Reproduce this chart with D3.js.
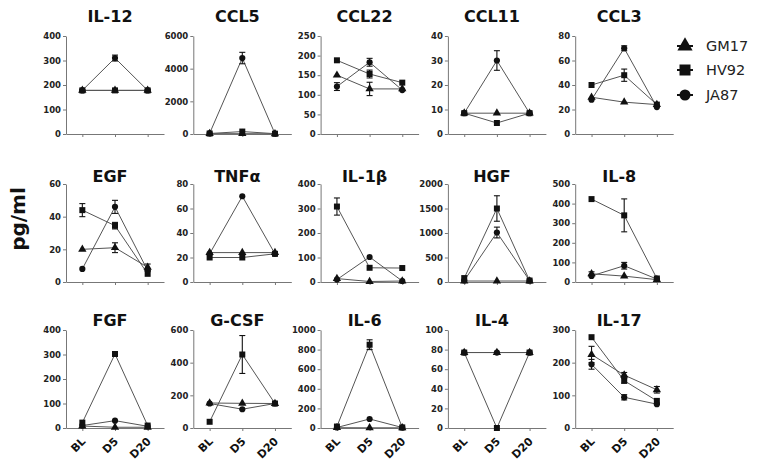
<!DOCTYPE html>
<html><head><meta charset="utf-8">
<script src="https://cdn.jsdelivr.net/npm/d3@7"></script>
<style>
html,body{margin:0;padding:0;background:#fff;}
svg{display:block;}
text{font-family:"DejaVu Sans",Verdana,sans-serif;}
</style></head>
<body>
<svg id="chart" width="760" height="471"></svg>
<script>
// ---- data ----
const categories = ["BL", "D5", "D20"];
const seriesNames = ["GM17", "HV92", "JA87"];
const panelTitles = ["IL-12","CCL5","CCL22","CCL11","CCL3","EGF","TNFα","IL-1β","HGF","IL-8","FGF","G-CSF","IL-6","IL-4","IL-17"];
const yMax  = [400, 6000, 250, 40, 80, 60, 80, 400, 2000, 500, 400, 600, 1000, 100, 300];
const yStep = [100, 2000, 50, 10, 20, 20, 20, 100, 500, 100, 100, 200, 200, 20, 100];

const gm17 = [
  [178,178,178],[20,20,10],[150,115,115],[8.5,8.5,8.5],[30,26,24],
  [20,21,9],[24,24,24],[14,2,4],[20,20,20],[42,30,12],
  [8,3,3],[153,151,150],[3,2,2],[77,77,77],[225,162,117]
];
const hv92 = [
  [178,178,178],[30,150,20],[188,153,131],[8.5,4.5,8.5],[40,48,24],
  [44,34.5,5],[20,20,23],[308,58,57],[80,1500,30],[423,340,18],
  [22,302,10],[38,450,150],[15,850,6],[77,0,77],[278,145,83]
];
const ja87 = [
  [178,310,178],[40,4650,20],[121,183,112],[8.5,30,8.5],[28,70,22],
  [8,46,7],[23,70,23],[10,102,4],[30,1010,30],[31,83,15],
  [10,30,7],[150,115,150],[5,92,5],[77,77,77],[195,94,73]
];
// symmetric error bars (SEM), 0 = none drawn
const gm17Err = [
  [4,4,4],[0,0,0],[0,17,0],[0,0,0],[0,0,0],
  [0,3,2],[0,0,0],[0,0,0],[0,0,0],[10,0,0],
  [0,0,0],[0,0,0],[0,0,0],[0,0,0],[25,8,10]
];
const hv92Err = [
  [0,0,0],[0,0,0],[0,10,0],[0,0,0],[0,5,0],
  [4,2,0],[0,0,0],[35,0,0],[0,260,0],[0,84,0],
  [0,0,0],[0,116,0],[0,50,0],[0,0,0],[0,8,0]
];
const ja87Err = [
  [0,12,0],[0,350,0],[10,10,0],[0,4,0],[0,2,0],
  [0,4,0],[0,0,0],[0,0,0],[0,110,0],[0,17,0],
  [0,0,0],[0,0,0],[0,0,0],[0,0,0],[15,8,0]
];

// ---- drawing ----
const svg = d3.select("#chart");
svg.append("rect").attr("width",760).attr("height",471).attr("fill","#fff");

const values = [gm17, hv92, ja87];
const errors = [gm17Err, hv92Err, ja87Err];
const symbolTypes = [d3.symbolTriangle, d3.symbolSquare, d3.symbolCircle];
const symbolSizes = [30, 36, 30];
const rowTop = [36, 184, 330];
const titleBase = [22, 182, 326];
const plotH = 98;

panelTitles.forEach((title, i) => {
  const row = Math.floor(i / 5), col = i % 5;
  const x0 = 82 + 127.3 * col;
  const top = rowTop[row], bottom = top + plotH;
  const xs = d3.scalePoint().domain(categories).range([x0 - 16, x0 + 82]).padding(0.5);
  const ys = d3.scaleLinear().domain([0, yMax[i]]).range([bottom, top]);
  const g = svg.append("g");

  // title
  g.append("text").attr("x", x0 + 28).attr("y", titleBase[row])
    .attr("text-anchor", "middle").attr("font-weight", "bold")
    .attr("font-size", "16px").attr("fill", "#111").text(title);

  // y axis
  const yAxis = d3.axisLeft(ys)
    .tickValues(d3.range(0, yMax[i] + yStep[i] / 2, yStep[i]))
    .tickFormat(d3.format("d"))
    .tickSize(3).tickSizeOuter(0).tickPadding(2);
  const ya = g.append("g").attr("transform", `translate(${x0 - 16},0)`).call(yAxis);
  ya.select(".domain").attr("stroke", "#777");
  ya.selectAll(".tick line").attr("stroke", "#777");
  ya.selectAll(".tick text").attr("font-size", "8.5px").attr("font-weight", "bold")
    .attr("fill", "#222").attr("font-family", "'DejaVu Sans',Verdana,sans-serif");

  // x axis
  const xAxis = d3.axisBottom(xs).tickSize(3).tickSizeOuter(0).tickFormat("");
  const xa = g.append("g").attr("transform", `translate(0,${bottom})`).call(xAxis);
  xa.select(".domain").attr("stroke", "#777");
  xa.selectAll(".tick line").attr("stroke", "#777");
  xa.selectAll(".tick text").remove();
  if (row === 2) {
    categories.forEach(c => {
      const tx = xs(c) + 4, ty = bottom + 14;
      g.append("text")
        .attr("x", tx).attr("y", ty)
        .attr("transform", `rotate(-45 ${tx} ${ty})`)
        .attr("text-anchor", "end")
        .attr("font-size", "11px").attr("font-weight", "bold").attr("fill", "#111")
        .text(c);
    });
  }

  // lines
  const line = d3.line().x((d, k) => xs(categories[k])).y(d => ys(d));
  values.forEach(arr => {
    g.append("path").attr("d", line(arr[i])).attr("fill", "none")
      .attr("stroke", "#555").attr("stroke-width", 1);
  });
  // error bars
  values.forEach((arr, s) => {
    arr[i].forEach((v, k) => {
      const e = errors[s][i][k];
      if (!e) return;
      const cx = xs(categories[k]);
      const y1 = ys(Math.max(0, v - e)), y2 = ys(v + e);
      g.append("line").attr("x1", cx).attr("x2", cx).attr("y1", y1).attr("y2", y2)
        .attr("stroke", "#111").attr("stroke-width", 1.1);
      [y1, y2].forEach(yy => g.append("line").attr("x1", cx - 3).attr("x2", cx + 3)
        .attr("y1", yy).attr("y2", yy).attr("stroke", "#111").attr("stroke-width", 1.1));
    });
  });
  // markers
  values.forEach((arr, s) => {
    const sym = d3.symbol().type(symbolTypes[s]).size(symbolSizes[s]);
    arr[i].forEach((v, k) => {
      g.append("path").attr("d", sym())
        .attr("transform", `translate(${xs(categories[k])},${ys(v)})`)
        .attr("fill", "#111");
    });
  });
});

// y label
svg.append("text").attr("transform", "translate(25,219) rotate(-90)")
  .attr("text-anchor", "middle").attr("font-weight", "bold").attr("font-size", "20px")
  .attr("fill", "#111").text("pg/ml");

// legend
const legendY = [46, 70, 95];
const legendSizes = [100, 121, 95];
seriesNames.forEach((name, s) => {
  const lg = svg.append("g").attr("transform", `translate(685,${legendY[s]})`);
  lg.append("line").attr("x1", -8).attr("x2", 8).attr("stroke", "#111").attr("stroke-width", 2);
  lg.append("path").attr("d", d3.symbol().type(symbolTypes[s]).size(legendSizes[s])())
    .attr("fill", "#111");
  lg.append("text").attr("x", 21).attr("dy", "0.36em").attr("font-size", "14.5px")
    .attr("fill", "#222").text(name);
});
</script>
</body></html>
